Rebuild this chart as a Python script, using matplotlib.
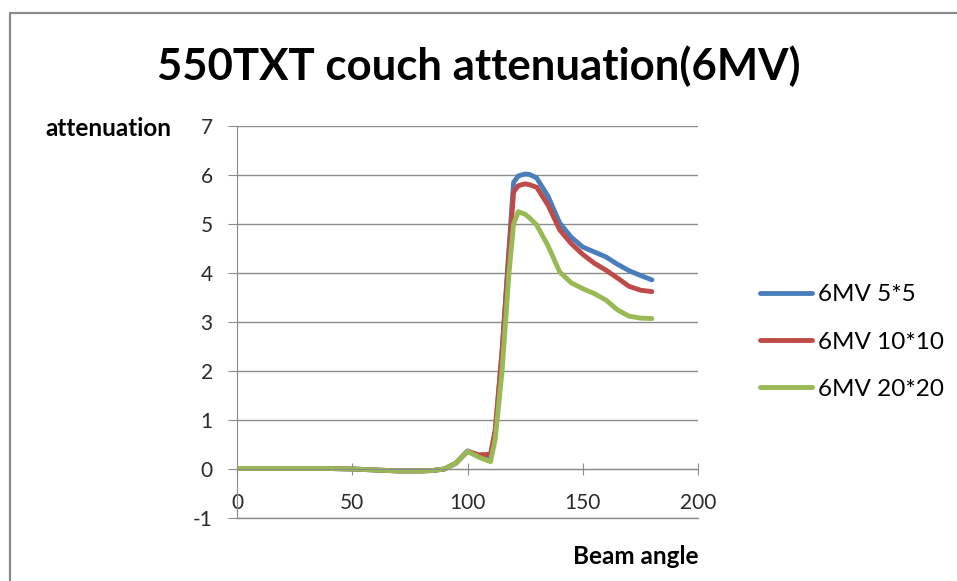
import matplotlib.pyplot as plt
from matplotlib.patches import Rectangle

# Beam angle (degrees) and couch attenuation (%)
angles = [0, 10, 20, 30, 40, 50, 60, 70, 80, 85, 90, 95, 100, 105, 110, 112,
          115, 118, 120, 122, 125, 127, 130, 135, 140, 145, 150, 155, 160, 165,
          170, 175, 180]

att_5x5 = [0.01, 0.01, 0.01, 0.01, 0.01, 0.0, -0.02, -0.04, -0.04, -0.03,
           0.0, 0.12, 0.37, 0.26, 0.22, 0.7, 2.4, 4.5, 5.85, 5.98, 6.02,
           6.01, 5.94, 5.56, 5.02, 4.73, 4.53, 4.43, 4.33, 4.18, 4.05, 3.95,
           3.86]
att_10x10 = [0.01, 0.01, 0.01, 0.01, 0.01, 0.0, -0.02, -0.04, -0.04, -0.03,
             0.0, 0.12, 0.36, 0.29, 0.3, 0.8, 2.4, 4.4, 5.65, 5.78, 5.82,
             5.8, 5.75, 5.38, 4.88, 4.6, 4.38, 4.2, 4.06, 3.9, 3.73, 3.65,
             3.62]
att_20x20 = [0.01, 0.01, 0.01, 0.01, 0.01, 0.0, -0.02, -0.04, -0.04, -0.03,
             0.0, 0.12, 0.36, 0.24, 0.15, 0.6, 2.0, 4.0, 5.0, 5.25, 5.2,
             5.12, 4.98, 4.55, 4.02, 3.8, 3.68, 3.58, 3.45, 3.25, 3.12, 3.08,
             3.07]

labels = ['6MV 5*5', '6MV 10*10', '6MV 20*20']
colors = ['#4a7ebb', '#be4b48', '#98b954']

plt.rcParams['font.family'] = ['Lato', 'DejaVu Sans']
plt.rcParams['axes.unicode_minus'] = False

fig = plt.figure(figsize=(9.57, 5.81), dpi=100)
ax = fig.add_axes([237 / 957, 1 - 518 / 581, (698 - 237) / 957, (518 - 126) / 581])

for vals, lab, col in zip([att_5x5, att_10x10, att_20x20], labels, colors):
    ax.plot(angles, vals, color=col, lw=3.5, label=lab,
            solid_joinstyle='round', solid_capstyle='round')

gray = '#8c8c8c'
ax.set_xlim(0, 200)
ax.set_ylim(-1, 7)
ax.set_xticks(range(0, 201, 50))
ax.set_yticks(range(-1, 8))
ax.grid(axis='y', color=gray, lw=1)
ax.set_axisbelow(True)
# bottom gridline sits on the axes edge, draw it unclipped
ax.axhline(ax.get_ylim()[0], color=gray, lw=1, clip_on=False, zorder=0.5)

for s in ['top', 'right']:
    ax.spines[s].set_visible(False)
ax.spines['left'].set_color(gray)
ax.spines['bottom'].set_color(gray)
ax.spines['bottom'].set_position(('data', 0))
ax.tick_params(axis='y', direction='out', length=6.5, color=gray,
               labelsize=15, pad=11, labelcolor='#2a2a2a')
ax.tick_params(axis='x', direction='inout', length=8.5, color=gray,
               labelsize=15, pad=13, labelcolor='#2a2a2a')

fig.suptitle('550TXT couch attenuation(6MV)', x=0.5, y=1 - 66 / 581,
             va='center', fontsize=31.5, fontweight='bold')
fig.text(108 / 957, 1 - 128 / 581, 'attenuation', ha='center', va='center',
         fontsize=17.5, fontweight='bold')
fig.text(636 / 957, 1 - 557 / 581, 'Beam angle', ha='center', va='center',
         fontsize=17.5, fontweight='bold')

ax.legend(loc='center left', bbox_to_anchor=(760 / 957, 1 - 342 / 581),
          bbox_transform=fig.transFigure, frameon=False, fontsize=17.5,
          handlelength=2.14, handletextpad=0.25, labelspacing=1.08,
          borderaxespad=0, borderpad=0)

# chart area border (only top and left edges are visible in the crop)
fig.patches.append(Rectangle((10 / 957, -0.1), 1.2, 1.1 - 13 / 581,
                             transform=fig.transFigure, fill=False,
                             edgecolor='#898989', lw=1.6))

plt.savefig('out.png', dpi=100)
